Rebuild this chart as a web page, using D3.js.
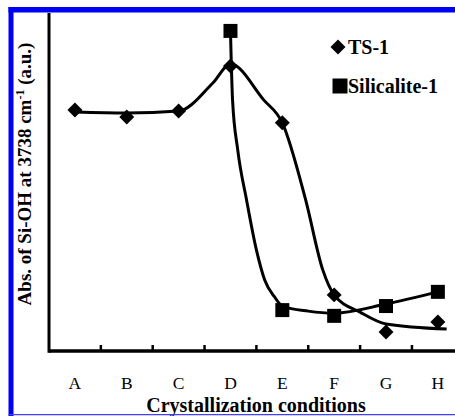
<!DOCTYPE html>
<html>
<head>
<meta charset="utf-8">
<script src="https://cdn.jsdelivr.net/npm/d3@7/dist/d3.min.js"></script>
<style>
  html, body { margin: 0; padding: 0; background: #fff; }
  svg { display: block; }
  text { font-family: "Liberation Serif", "Times New Roman", serif; fill: #000; }
</style>
</head>
<body>
<svg id="chart" width="455" height="416"></svg>
<script>
// Crystallization conditions on the x axis
const categories = ["A", "B", "C", "D", "E", "F", "G", "H"];

// Measured absorbance of Si-OH at 3738 cm-1 (a.u.)
const ts1Cats = ["A", "B", "C", "D", "E", "F", "G", "H"];
const ts1Values = [0.713, 0.692, 0.710, 0.843, 0.675, 0.166, 0.056, 0.086];
const silCats = ["D", "E", "F", "G", "H"];
const silValues = [0.947, 0.121, 0.104, 0.133, 0.175];

// Smoothed trend curves: position along the category axis (0 = A) and value
const ts1TrendPos = [0, 1, 2, 2.66, 3, 3.64, 4, 4.45, 4.78, 5, 5.5, 6, 7.17];
const ts1TrendVal = [0.707, 0.704, 0.710, 0.793, 0.849, 0.743, 0.675, 0.447, 0.240, 0.166, 0.115, 0.080, 0.065];
const silTrendPos = [3, 3.04, 3.14, 3.31, 3.5, 3.66, 3.85, 4, 4.5, 5, 6, 7];
const silTrendVal = [0.947, 0.743, 0.595, 0.447, 0.299, 0.210, 0.160, 0.133, 0.118, 0.112, 0.139, 0.175];

const seriesNames = ["TS-1", "Silicalite-1"];
const xTitle = "Crystallization conditions";

const svg = d3.select("#chart");

const plotLeft = 49, plotBottom = 351, plotTop = 13, bandW = 51.85;
const x = d3.scaleBand().domain(categories).range([plotLeft, plotLeft + bandW * categories.length]).padding(0);
const xc = c => x(c) + x.bandwidth() / 2;
const xi = d3.scaleLinear().domain([0, categories.length - 1]).range([xc(categories[0]), xc(categories[categories.length - 1])]);
const y = d3.scaleLinear().domain([0, 1]).range([plotBottom, plotTop]);

// Trend curves
const line = d3.line().x(d => xi(d[0])).y(d => y(d[1])).curve(d3.curveMonotoneX);
svg.append("path")
  .attr("d", line(d3.zip(ts1TrendPos, ts1TrendVal)))
  .attr("fill", "none").attr("stroke", "#000").attr("stroke-width", 3);
svg.append("path")
  .attr("d", line(d3.zip(silTrendPos, silTrendVal)))
  .attr("fill", "none").attr("stroke", "#000").attr("stroke-width", 3);

// Axis lines
svg.append("line").attr("x1", plotLeft).attr("x2", 455).attr("y1", plotBottom).attr("y2", plotBottom)
  .attr("stroke", "#000").attr("stroke-width", 3.5);
svg.append("line").attr("x1", plotLeft).attr("x2", plotLeft).attr("y1", plotTop).attr("y2", plotBottom + 1.7)
  .attr("stroke", "#000").attr("stroke-width", 3);

// Inner tick marks at the boundaries between categories
svg.append("g").selectAll("line")
  .data(categories.slice(1))
  .join("line")
  .attr("x1", d => x(d)).attr("x2", d => x(d))
  .attr("y1", plotBottom - 6).attr("y2", plotBottom)
  .attr("stroke", "#000").attr("stroke-width", 2.5);

// Category labels
svg.append("g").selectAll("text")
  .data(categories)
  .join("text")
  .attr("x", d => xc(d)).attr("y", 388.5)
  .attr("text-anchor", "middle")
  .style("font-size", "17.5px")
  .text(d => d);

// Axis titles
svg.append("text")
  .attr("x", 256).attr("y", 412)
  .attr("text-anchor", "middle")
  .style("font-size", "20px").style("font-weight", "bold")
  .text(xTitle);

const yt = svg.append("text")
  .attr("transform", "translate(31,174) rotate(-90)")
  .attr("text-anchor", "middle")
  .style("font-size", "19px").style("font-weight", "bold");
yt.append("tspan").text("Abs. of Si-OH at 3738 cm");
yt.append("tspan").attr("dy", -7).style("font-size", "12px").text("-1");
yt.append("tspan").attr("dy", 7).text(" (a.u.)");

// Markers
const diamond = d3.symbol(d3.symbolSquare, 112);
const square = d3.symbol(d3.symbolSquare, 196);

svg.append("g").selectAll("path")
  .data(d3.zip(silCats, silValues))
  .join("path")
  .attr("d", square())
  .attr("transform", d => `translate(${xc(d[0])},${y(d[1])})`)
  .attr("fill", "#000");

svg.append("g").selectAll("path")
  .data(d3.zip(ts1Cats, ts1Values))
  .join("path")
  .attr("d", diamond())
  .attr("transform", d => `translate(${xc(d[0])},${y(d[1])}) rotate(45)`)
  .attr("fill", "#000");

// Legend
const legend = svg.append("g");
legend.append("path").attr("d", diamond()).attr("transform", "translate(338,47) rotate(45)").attr("fill", "#000");
legend.append("path").attr("d", d3.symbol(d3.symbolSquare, 225)()).attr("transform", "translate(340,86)").attr("fill", "#000");
legend.selectAll("text")
  .data(seriesNames)
  .join("text")
  .attr("x", 348).attr("y", (d, i) => 53.5 + i * 39)
  .style("font-size", "20px").style("font-weight", "bold")
  .text(d => d);

// Blue frame
svg.append("rect").attr("x", 8.5).attr("y", 7).attr("width", 455 - 8.5).attr("height", 5.5).attr("fill", "#0000f5");
svg.append("rect").attr("x", 8.5).attr("y", 7).attr("width", 5).attr("height", 416 - 7).attr("fill", "#0000f5");
svg.append("line").attr("x1", 8.5).attr("x2", 455).attr("y1", 414.6).attr("y2", 414.6)
  .attr("stroke", "#4040ff").attr("stroke-width", 1.2);
</script>
</body>
</html>
